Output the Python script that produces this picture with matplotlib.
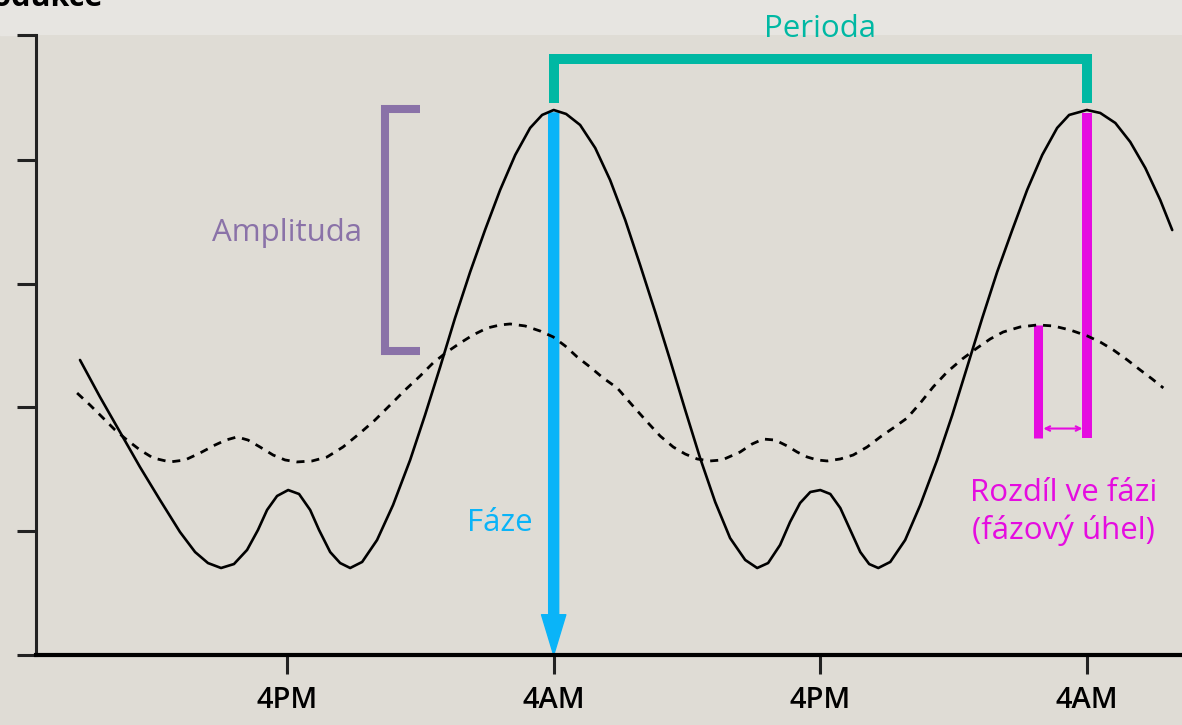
import numpy as np
import matplotlib.pyplot as plt
from matplotlib.patches import Rectangle, FancyArrowPatch

# data (hours on x, relative level on y)
solid_h = [6.68, 7.58, 8.48, 9.38, 10.28, 11.18, 11.86, 12.44, 13.03, 13.61, 14.20, 14.69,
           15.10, 15.55, 16.05, 16.54, 17.04, 17.44, 17.94, 18.39, 18.84, 19.38, 20.05, 20.77,
           21.54, 22.21, 22.89, 23.56, 24.24, 24.91, 25.59, 26.27, 26.94, 27.48, 28.0, 28.56,
           29.19, 29.87, 30.54, 31.22, 31.89, 32.57, 33.24, 33.92, 34.59, 35.27, 35.94, 36.62,
           37.16, 37.65, 38.19, 38.64, 39.09, 39.55, 40.0, 40.45, 40.90, 41.35, 41.80, 42.20,
           42.61, 43.15, 43.82, 44.50, 45.26, 45.94, 46.61, 47.29, 47.96, 48.64, 49.31, 49.99,
           50.66, 51.20, 52.0, 52.60, 53.28, 53.95, 54.63, 55.30, 55.84]
solid_v = [2.384, 2.085, 1.802, 1.519, 1.253, 0.994, 0.832, 0.743, 0.703, 0.735, 0.849, 1.010,
           1.172, 1.285, 1.333, 1.301, 1.172, 1.010, 0.832, 0.743, 0.703, 0.752, 0.929, 1.212,
           1.576, 1.939, 2.327, 2.723, 3.095, 3.434, 3.758, 4.041, 4.259, 4.364, 4.404, 4.372,
           4.283, 4.097, 3.838, 3.515, 3.152, 2.772, 2.384, 1.980, 1.592, 1.236, 0.945, 0.768,
           0.703, 0.743, 0.889, 1.075, 1.228, 1.317, 1.333, 1.301, 1.188, 1.010, 0.832, 0.735,
           0.703, 0.752, 0.929, 1.212, 1.576, 1.939, 2.327, 2.723, 3.095, 3.434, 3.758, 4.041,
           4.259, 4.364, 4.404, 4.380, 4.299, 4.146, 3.935, 3.677, 3.434]

dash_h = [6.55, 7.13, 7.72, 8.26, 8.80, 9.38, 9.97, 10.73, 11.41, 12.08, 12.76, 13.25,
          13.75, 14.24, 14.78, 15.37, 15.91, 16.45, 17.13, 17.80, 18.52, 19.29, 19.96, 20.64,
          21.31, 21.99, 22.57, 23.20, 23.79, 24.37, 25.00, 25.59, 26.04, 26.71, 27.39, 27.98,
          28.52, 29.06, 29.64, 30.23, 30.86, 31.53, 32.21, 32.79, 33.38, 33.92, 34.46, 35.04,
          35.58, 36.39, 36.93, 37.43, 37.97, 38.51, 38.96, 39.41, 39.86, 40.31, 40.90, 41.48,
          42.11, 42.70, 43.28, 43.91, 44.50, 45.08, 45.71, 46.39, 47.06, 47.65, 48.23, 49.00,
          49.77, 50.49, 51.25, 52.02, 52.60, 53.19, 53.82, 54.40, 54.94, 55.44]
dash_v = [2.117, 2.020, 1.915, 1.818, 1.737, 1.657, 1.592, 1.560, 1.576, 1.632, 1.697, 1.737,
          1.762, 1.737, 1.681, 1.616, 1.576, 1.560, 1.568, 1.600, 1.681, 1.794, 1.899, 2.020,
          2.141, 2.255, 2.360, 2.449, 2.521, 2.586, 2.642, 2.667, 2.675, 2.659, 2.618, 2.570,
          2.497, 2.408, 2.327, 2.238, 2.158, 2.020, 1.883, 1.770, 1.681, 1.624, 1.584, 1.568,
          1.576, 1.640, 1.705, 1.745, 1.737, 1.689, 1.640, 1.600, 1.576, 1.568, 1.584, 1.616,
          1.681, 1.762, 1.834, 1.915, 2.036, 2.166, 2.287, 2.392, 2.481, 2.554, 2.610, 2.651,
          2.667, 2.659, 2.626, 2.578, 2.529, 2.465, 2.384, 2.303, 2.230, 2.158]

xticks = [16, 28, 40, 52]
xlabels = ['4PM', '4AM', '4PM', '4AM']
yticks = [0, 1, 2, 3, 4, 5.01]

bg = '#dfdcd5'
teal = '#00b8a3'
blue = '#0ab4f8'
purple = '#8a72a8'
magenta = '#e50ce0'
font = ['Open Sans', 'DejaVu Sans']
tsize = 22.5

fig = plt.figure(figsize=(11.82, 7.25), dpi=100, facecolor=bg)
fig.patches.append(Rectangle((0, 1 - 35 / 725), 1, 35 / 725, transform=fig.transFigure,
                             color='#e7e5e1', zorder=-1))
# y label, cut off by the top edge as in the original
fig.text(-40 / 1182, 1 - 6 / 725, 'Produkce', fontsize=22, fontweight='bold',
         family=font, va='baseline', ha='left')

ax = fig.add_axes([36 / 1182, 70 / 725, 1146 / 1182, 620 / 725])
ax.set_facecolor(bg)
ax.set_xlim(4.70, 56.28)
ax.set_ylim(0, 5.01)

for s in ['top', 'right']:
    ax.spines[s].set_visible(False)
ax.spines['left'].set_linewidth(2.2)
ax.spines['bottom'].set_linewidth(3)
ax.spines['left'].set_color('#222222')
ax.spines['bottom'].set_color('#000000')

ax.set_xticks(xticks)
ax.set_xticklabels(xlabels, family=font, fontsize=21, fontweight='semibold')
ax.set_yticks(yticks)
ax.set_yticklabels([])
ax.tick_params(axis='x', length=14, width=2.2, color='#222222', pad=8)
ax.tick_params(axis='y', length=14, width=2.2, color='#222222')

# curves
ax.plot(solid_h, solid_v, color='black', lw=1.9, zorder=4,
        solid_capstyle='round', solid_joinstyle='round')
ax.plot(dash_h, dash_v, color='black', lw=2, ls=(0, (2.9, 2.5)), zorder=4)

# period bracket
ax.plot([28, 28, 52, 52], [4.46, 4.816, 4.816, 4.46], color=teal, lw=7.2,
        solid_joinstyle='miter', solid_capstyle='butt', zorder=2)
ax.text(40, 5.06, 'Perioda', color=teal, fontsize=tsize, family=font,
        ha='center', va='center', clip_on=False)

# phase arrow
arr = FancyArrowPatch((28, 4.38), (28, 0.0),
                      arrowstyle='simple,head_length=2.9,head_width=1.75,tail_width=0.72',
                      mutation_scale=10, color=blue, shrinkA=0, shrinkB=0, zorder=2)
ax.add_patch(arr)
ax.text(25.59, 1.07, 'Fáze', color=blue, fontsize=tsize, family=font,
        ha='center', va='center')

# amplitude bracket
ax.plot([21.99, 20.41, 20.41, 21.99], [4.41, 4.41, 2.46, 2.46], color=purple, lw=5.8,
        solid_joinstyle='miter', solid_capstyle='butt', zorder=2)
ax.text(19.38, 3.41, 'Amplituda', color=purple, fontsize=tsize, family=font,
        ha='right', va='center')

# phase difference
ax.plot([52, 52], [4.38, 1.75], color=magenta, lw=7.2, solid_capstyle='butt', zorder=2)
ax.plot([49.79, 49.79], [2.67, 1.75], color=magenta, lw=6.5, solid_capstyle='butt', zorder=2)
ax.annotate('', xy=(51.8, 1.83), xytext=(50.04, 1.83),
            arrowprops=dict(arrowstyle='<->', color=magenta, lw=1.5,
                            shrinkA=0, shrinkB=0, mutation_scale=8), zorder=2)
ax.text(50.94, 1.31, 'Rozdíl ve fázi', color=magenta, fontsize=tsize, family=font,
        ha='center', va='center')
ax.text(50.94, 1.01, '(fázový úhel)', color=magenta, fontsize=tsize, family=font,
        ha='center', va='center')

fig.savefig('out.png', dpi=100, facecolor=bg)
